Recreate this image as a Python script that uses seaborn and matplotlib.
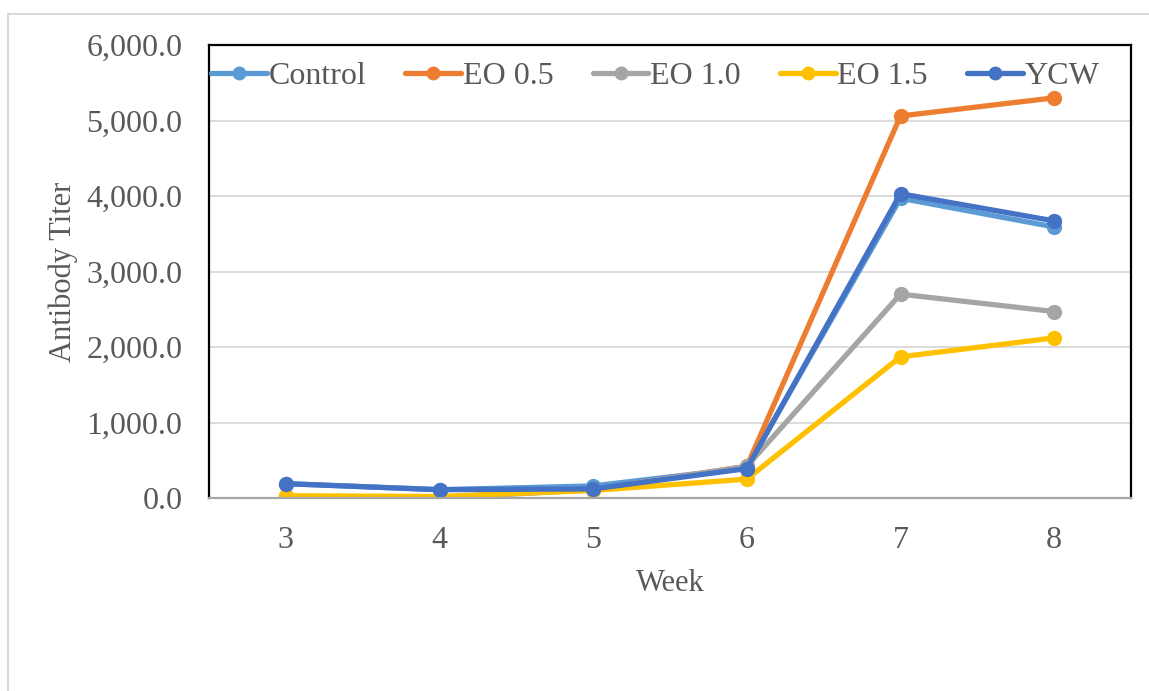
import matplotlib
matplotlib.use("Agg")
import matplotlib.pyplot as plt
import matplotlib.ticker as mticker
from matplotlib.patches import Rectangle
import seaborn as sns
import pandas as pd

weeks = [3, 4, 5, 6, 7, 8]
control = [190, 110, 160, 400, 3970, 3590]
eo_05 = [20, 10, 110, 420, 5060, 5300]
eo_10 = [0, 0, 110, 420, 2700, 2470]
eo_15 = [30, 20, 100, 250, 1870, 2120]
ycw = [190, 110, 120, 390, 4030, 3670]

series_names = ["Control", "EO 0.5", "EO 1.0", "EO 1.5", "YCW"]
series_values = [control, eo_05, eo_10, eo_15, ycw]
series_colors = ["#5B9BD5", "#ED7D31", "#A5A5A5", "#FFC000", "#4472C4"]

rows = []
for name, vals in zip(series_names, series_values):
    for i, (w, v) in enumerate(zip(weeks, vals)):
        rows.append({"pos": i, "Week": w, "Group": name, "Titer": v})
df = pd.DataFrame(rows)

sns.set_theme(style="white")
plt.rcParams["font.family"] = ["Liberation Serif", "DejaVu Serif"]

fig = plt.figure(figsize=(11.49, 6.91), dpi=100)
fig.patch.set_facecolor("white")
# chart frame
fig.patches.append(Rectangle((8 / 1149, -0.1), 1.2, 1 - 14 / 691 + 0.1,
                             transform=fig.transFigure, fill=False,
                             edgecolor="#D9D9D9", linewidth=1.5))

ax = fig.add_axes([209 / 1149, 1 - 498 / 691, (1131 - 209) / 1149, (498 - 45) / 691])

sns.lineplot(data=df, x="pos", y="Titer", hue="Group", hue_order=series_names,
             palette=series_colors, marker="o", markersize=11,
             markeredgewidth=0, linewidth=3.8, ax=ax, legend=False)

ax.set_xlim(-0.5, 5.5)
ax.set_ylim(0, 6000)
ax.set_xticks(range(len(weeks)))
ax.set_xticklabels([str(w) for w in weeks])
ax.yaxis.set_major_locator(mticker.MultipleLocator(1000))
ax.yaxis.set_major_formatter(mticker.StrMethodFormatter("{x:,.1f}"))
ax.grid(axis="y", color="#D9D9D9", linewidth=1.3)
ax.set_axisbelow(True)

for side in ["left", "top", "right"]:
    ax.spines[side].set_color("black")
    ax.spines[side].set_linewidth(1.6)
ax.spines["bottom"].set_color("#A6A6A6")
ax.spines["bottom"].set_linewidth(1.6)

ax.tick_params(axis="both", length=0, labelsize=23, labelcolor="#595959")
ax.tick_params(axis="x", pad=20)
ax.tick_params(axis="y", pad=19)
ax.set_xlabel("Week", fontsize=22, color="#595959", labelpad=10)
ax.set_ylabel("Antibody Titer", fontsize=22, color="#595959", labelpad=6)

handles = [plt.Line2D([], [], color=c, marker="o", markersize=10,
                      markeredgewidth=0, linewidth=3.8) for c in series_colors]
leg = ax.legend(handles, series_names, loc="upper left", ncol=5,
                bbox_to_anchor=(-0.015, 0.998), frameon=False,
                fontsize=23, handlelength=1.75, handletextpad=0.05,
                columnspacing=1.22, borderaxespad=0.1)
for t in leg.get_texts():
    t.set_color("#595959")

fig.savefig("out.png", dpi=100, facecolor="white")
